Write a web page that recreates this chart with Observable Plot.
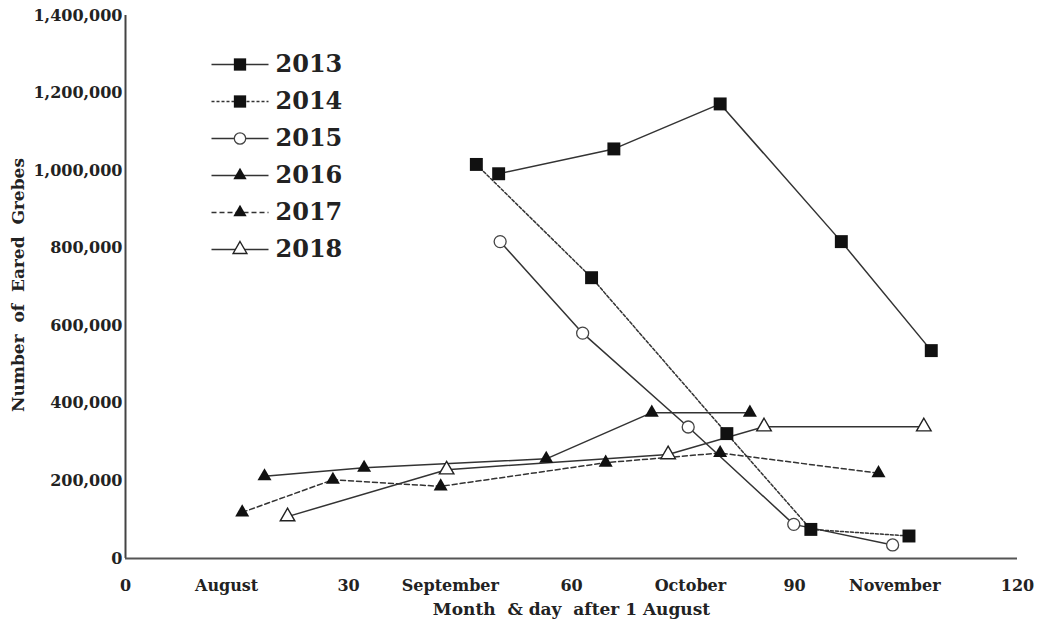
<!DOCTYPE html>
<html>
<head>
<meta charset="utf-8">
<script src="https://cdn.jsdelivr.net/npm/d3@7"></script>
<script src="https://cdn.jsdelivr.net/npm/@observablehq/plot@0.6"></script>
<style>
  body { margin: 0; background: #fff; }
  #wrap { position: relative; width: 1063px; height: 625px; }
  #legend { position: absolute; left: 205px; top: 45px; }
</style>
</head>
<body>
<div id="wrap"><div id="chart"></div><div id="legend"></div></div>
<script>
// ---- data ----
const years = ["2013", "2014", "2015", "2016", "2017", "2018"];

const days2013 = [50.2, 65.7, 80.0, 96.3, 108.4];
const vals2013 = [992000, 1056000, 1172000, 817000, 536000];

const days2014 = [47.2, 62.7, 80.9, 92.2, 105.4];
const vals2014 = [1016000, 724000, 322000, 75000, 58000];

const days2015 = [50.4, 61.5, 75.7, 89.9, 103.2];
const vals2015 = [817000, 581000, 339000, 88000, 35000];

const days2016 = [18.7, 32.1, 56.6, 70.8, 84.0];
const vals2016 = [212000, 234000, 257000, 376000, 376000];

const days2017 = [15.7, 27.9, 42.4, 64.6, 80.0, 101.3];
const vals2017 = [119000, 203000, 186000, 247000, 272000, 220000];

const days2018 = [21.8, 43.2, 73.0, 85.9, 107.4];
const vals2018 = [108000, 229000, 268000, 340000, 340000];

const xTickValues = [0, 13.6, 30, 43.7, 60, 76, 90, 103.5, 120];
const xTickLabels = ["0", "August", "30", "September", "60", "October", "90", "November", "120"];
const yTickValues = [0, 200000, 400000, 600000, 800000, 1000000, 1200000, 1400000];

const xTitle = "Month  & day  after 1 August";
const yTitle = "Number  of  Eared  Grebes";

// ---- styles per series ----
const styles = {
  "2013": {symbol: "square", fill: "#111", stroke: "none", dash: null, r: 7.3, sw: 0},
  "2014": {symbol: "square", fill: "#111", stroke: "none", dash: "3,2", r: 7.3, sw: 0},
  "2015": {symbol: "circle", fill: "white", stroke: "#444", dash: null, r: 6, sw: 1.3},
  "2016": {symbol: "triangle", fill: "#111", stroke: "none", dash: null, r: 5.2, sw: 0},
  "2017": {symbol: "triangle", fill: "#111", stroke: "none", dash: "5,3", r: 5.2, sw: 0},
  "2018": {symbol: "triangle", fill: "white", stroke: "#222", dash: null, r: 5.4, sw: 1.4}
};

const seriesDays = [days2013, days2014, days2015, days2016, days2017, days2018];
const seriesVals = [vals2013, vals2014, vals2015, vals2016, vals2017, vals2018];
const table = years.map((y, i) => seriesDays[i].map((d, j) => ({year: y, day: d, value: seriesVals[i][j]})));

const lineMarks = table.map((rows, i) => {
  const s = styles[years[i]];
  return Plot.line(rows, {x: "day", y: "value", stroke: "#333", strokeWidth: 1.5, strokeDasharray: s.dash});
});
const dotMarks = table.map((rows, i) => {
  const s = styles[years[i]];
  return Plot.dot(rows, {x: "day", y: "value", symbol: () => s.symbol, r: s.r, fill: s.fill, stroke: s.stroke, strokeWidth: s.sw});
});

const chart = Plot.plot({
  width: 1063,
  height: 625,
  marginLeft: 125,
  marginRight: 46,
  marginTop: 15,
  marginBottom: 67,
  style: "font-family: 'DejaVu Serif'; font-weight: bold; font-size: 16px; color: #222; background: white; overflow: visible;",
  x: {domain: [0, 120]},
  y: {domain: [0, 1400000]},
  symbol: {type: "identity"},
  marks: [
    Plot.axisY({ticks: yTickValues, tickSize: 0, tickPadding: 3, tickFormat: d3.format(","), label: null, fontSize: 16}),
    Plot.axisX({ticks: xTickValues, tickSize: 0, tickPadding: 21, tickFormat: (d) => xTickLabels[xTickValues.indexOf(d)], label: null, fontSize: 16}),
    Plot.ruleX([0], {stroke: "#444", strokeWidth: 2}),
    Plot.ruleY([0], {stroke: "#555", strokeWidth: 2}),
    ...lineMarks,
    ...dotMarks,
    Plot.text([xTitle], {frameAnchor: "bottom", dy: 56, fontSize: 17, fontWeight: "bold", fill: "#222"}),
    Plot.text([yTitle], {frameAnchor: "left", textAnchor: "middle", dx: -107, dy: -2, rotate: -90, fontSize: 17, fontWeight: "bold", fill: "#222"})
  ]
});
document.getElementById("chart").appendChild(chart);

// ---- legend ----
const legendRows = years.map(y => ({year: y}));
const legend = Plot.plot({
  width: 160,
  height: 225,
  margin: 0,
  style: "font-family: 'DejaVu Serif'; font-weight: bold; background: transparent; overflow: visible;",
  x: {domain: [0, 1], range: [6, 63]},
  y: {type: "point", domain: years, range: [17, 205], padding: 0},
  symbol: {type: "identity"},
  axis: null,
  marks: [
    ...years.map(y => Plot.link([{year: y}], {x1: 0, x2: 1, y1: "year", y2: "year", stroke: "#333", strokeWidth: 1.4, strokeDasharray: styles[y].dash})),
    ...years.map(y => Plot.dot([{year: y}], {x: 0.5, y: "year", symbol: () => styles[y].symbol, r: styles[y].r * 0.95, fill: styles[y].fill, stroke: styles[y].stroke, strokeWidth: styles[y].sw})),
    Plot.text(legendRows, {x: 1, y: "year", text: "year", dx: 7, textAnchor: "start", fontSize: 24, fontWeight: "bold", fill: "#222"})
  ]
});
document.getElementById("legend").appendChild(legend);
</script>
</body>
</html>
